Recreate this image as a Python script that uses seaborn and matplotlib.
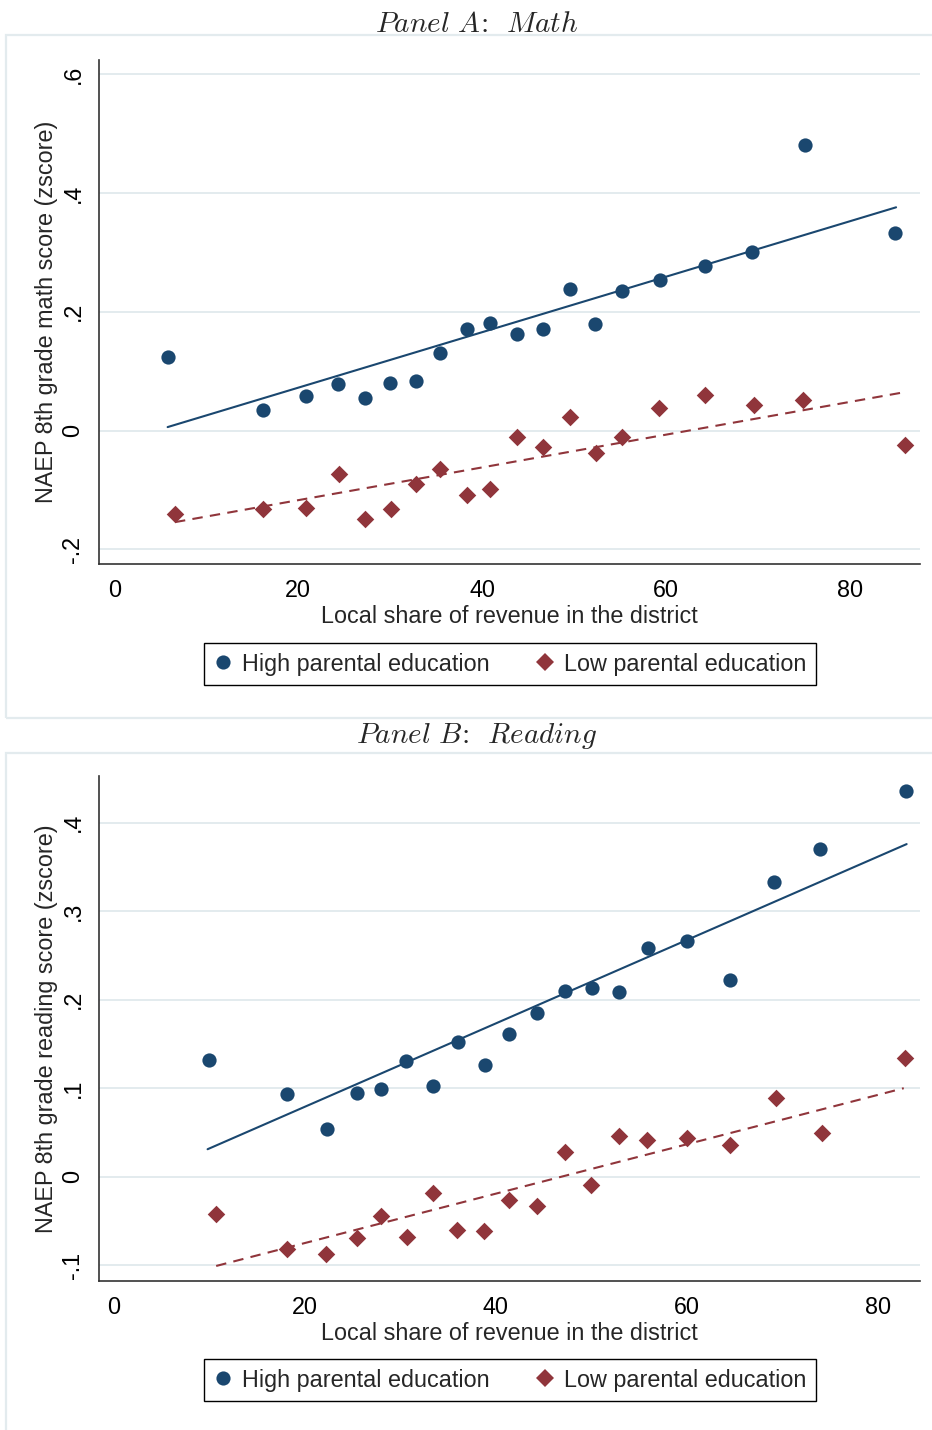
import numpy as np
import pandas as pd
import matplotlib
matplotlib.use("Agg")
import matplotlib.pyplot as plt
from matplotlib.patches import Rectangle
from matplotlib.lines import Line2D
import seaborn as sns

# ---------------- data ----------------
math_x_high = [5.8, 16.2, 20.8, 24.3, 27.3, 30.0, 32.8, 35.4, 38.3, 40.9,
               43.8, 46.6, 49.5, 52.3, 55.2, 59.3, 64.2, 69.3, 75.1, 84.9]
math_y_high = [0.124, 0.035, 0.058, 0.078, 0.055, 0.080, 0.083, 0.130, 0.171, 0.181,
               0.163, 0.171, 0.238, 0.179, 0.235, 0.253, 0.277, 0.301, 0.481, 0.333]
math_x_low = [6.6, 16.2, 20.8, 24.4, 27.3, 30.1, 32.8, 35.4, 38.3, 40.9,
              43.8, 46.6, 49.5, 52.4, 55.2, 59.2, 64.2, 69.5, 74.9, 86.0]
math_y_low = [-0.140, -0.132, -0.131, -0.073, -0.148, -0.132, -0.089, -0.065, -0.108, -0.098,
              -0.010, -0.027, 0.023, -0.037, -0.011, 0.038, 0.060, 0.043, 0.051, -0.024]
math_fit_high_x = [5.8, 85.0]
math_fit_high_y = [0.006, 0.376]
math_fit_low_x = [6.6, 86.0]
math_fit_low_y = [-0.154, 0.065]

read_x_high = [9.9, 18.1, 22.3, 25.4, 28.0, 30.6, 33.4, 36.0, 38.8, 41.4,
               44.3, 47.2, 50.1, 52.9, 55.9, 60.0, 64.5, 69.1, 73.9, 82.9]
read_y_high = [0.132, 0.094, 0.054, 0.095, 0.099, 0.131, 0.102, 0.152, 0.126, 0.161,
               0.185, 0.210, 0.213, 0.209, 0.259, 0.266, 0.222, 0.333, 0.370, 0.436]
read_x_low = [10.7, 18.1, 22.2, 25.4, 28.0, 30.7, 33.4, 35.9, 38.7, 41.4,
              44.3, 47.2, 50.0, 52.9, 55.8, 60.0, 64.5, 69.3, 74.1, 82.8]
read_y_low = [-0.042, -0.082, -0.087, -0.069, -0.045, -0.068, -0.018, -0.060, -0.061, -0.026,
              -0.033, 0.028, -0.009, 0.046, 0.041, 0.044, 0.036, 0.089, 0.049, 0.134]
read_fit_high_x = [9.8, 83.0]
read_fit_high_y = [0.031, 0.376]
read_fit_low_x = [10.7, 82.7]
read_fit_low_y = [-0.101, 0.100]

x_ticks = [0, 20, 40, 60, 80]
x_ticklabels = ["0", "20", "40", "60", "80"]
math_y_ticks = [-0.2, 0.0, 0.2, 0.4, 0.6]
math_y_ticklabels = ["-.2", "0", ".2", ".4", ".6"]
read_y_ticks = [-0.1, 0.0, 0.1, 0.2, 0.3, 0.4]
read_y_ticklabels = ["-.1", "0", ".1", ".2", ".3", ".4"]

series_labels = ["High parental education", "Low parental education"]
panel_titles = [r"$Panel\ A\!{:}\ \,Math$", r"$Panel\ B\!{:}\ \,Reading$"]
x_label = "Local share of revenue in the district"
y_labels = ["NAEP 8th grade math score (zscore)", "NAEP 8th grade reading score (zscore)"]

# ---------------- style ----------------
sns.set_style("white")
plt.rcParams["font.family"] = ["Liberation Sans", "DejaVu Sans"]
plt.rcParams["mathtext.fontset"] = "cm"

NAVY = "#1a476f"
MAROON = "#90353b"
GRID = "#e3ebee"
FRAME = "#e3ebee"
FS = 16.8

W, H = 932, 1430
fig = plt.figure(figsize=(W / 100, H / 100), dpi=100)
fig.patch.set_facecolor("white")


def fx(px):
    return px / W


def fy(py):
    return 1 - py / H


def panel(ax_box, xh, yh, xl, yl, fhx, fhy, flx, fly, yticks, yticklabels,
          ylim, xlim, ylabel, title, title_y, frame_box, legend_y):
    left, top, right, bottom = ax_box
    ax = fig.add_axes([fx(left), fy(bottom), fx(right - left), (bottom - top) / H])
    dfh = pd.DataFrame({"x": xh, "y": yh})
    dfl = pd.DataFrame({"x": xl, "y": yl})
    sns.scatterplot(data=dfh, x="x", y="y", ax=ax, color=NAVY, marker="o", s=105,
                    linewidth=0, zorder=3)
    sns.scatterplot(data=dfl, x="x", y="y", ax=ax, color=MAROON, marker="D", s=80,
                    linewidth=0, zorder=3)
    sns.lineplot(x=fhx, y=fhy, ax=ax, color=NAVY, lw=1.5, zorder=4)
    sns.lineplot(x=flx, y=fly, ax=ax, color=MAROON, lw=1.5, zorder=4,
                 linestyle=(0, (5, 3.5)))
    ax.set_xlim(*xlim)
    ax.set_ylim(*ylim)
    ax.set_xticks(x_ticks)
    ax.set_xticklabels(x_ticklabels)
    ax.set_yticks(yticks)
    ax.set_yticklabels(yticklabels, rotation=90, va="center")
    ax.tick_params(axis="both", direction="out", length=6.5, width=1.0,
                   colors="#333333", labelcolor="black", labelsize=FS)
    ax.tick_params(axis="x", pad=4)
    ax.tick_params(axis="y", pad=4)
    for s in ["top", "right"]:
        ax.spines[s].set_visible(False)
    for s in ["left", "bottom"]:
        ax.spines[s].set_color("#333333")
        ax.spines[s].set_linewidth(1.2)
    ax.grid(axis="y", color=GRID, lw=1.4, zorder=0)
    ax.grid(axis="x", visible=False)
    ax.set_axisbelow(True)
    ax.set_xlabel(x_label, fontsize=FS, va="top")
    ax.xaxis.set_label_coords(0.5, -41 / (bottom - top))
    ax.set_ylabel(ylabel, fontsize=FS)
    ax.yaxis.set_label_coords(-(99 - 58) / (right - left), 0.5)

    # graph region frame
    x0, y0, y1 = frame_box
    fig.patches.append(Rectangle((fx(x0), fy(y1)), fx(W + 10 - x0), (y1 - y0) / H,
                                 transform=fig.transFigure, fill=False,
                                 edgecolor=FRAME, lw=1.6, zorder=0))
    fig.text(fx(477), fy(title_y), title, ha="center", va="baseline", fontsize=21)

    handles = [
        Line2D([], [], ls="none", marker="o", color=NAVY, markersize=10.2, markeredgewidth=0),
        Line2D([], [], ls="none", marker="D", color=MAROON, markersize=8.9, markeredgewidth=0),
    ]
    leg = ax.legend(handles, series_labels, loc="center", ncol=2,
                    bbox_to_anchor=(fx(510), fy(legend_y)), bbox_transform=fig.transFigure,
                    fontsize=FS, frameon=True, fancybox=False, edgecolor="black",
                    framealpha=1, handlelength=0.8, handletextpad=0.4,
                    columnspacing=2.0, borderpad=0.42, borderaxespad=0)
    leg.get_frame().set_linewidth(1.0)
    return ax


panel((99, 60, 920, 564), math_x_high, math_y_high, math_x_low, math_y_low,
      math_fit_high_x, math_fit_high_y, math_fit_low_x, math_fit_low_y,
      math_y_ticks, math_y_ticklabels, (-0.2245, 0.624), (-1.66, 87.6),
      y_labels[0], panel_titles[0], 32, (6, 35, 718), 664)

panel((99, 776, 920, 1281), read_x_high, read_y_high, read_x_low, read_y_low,
      read_fit_high_x, read_fit_high_y, read_fit_low_x, read_fit_low_y,
      read_y_ticks, read_y_ticklabels, (-0.118, 0.453), (-1.57, 84.4),
      y_labels[1], panel_titles[1], 743, (6, 753, 1440), 1380)

fig.savefig("out.png", dpi=100, facecolor="white")
